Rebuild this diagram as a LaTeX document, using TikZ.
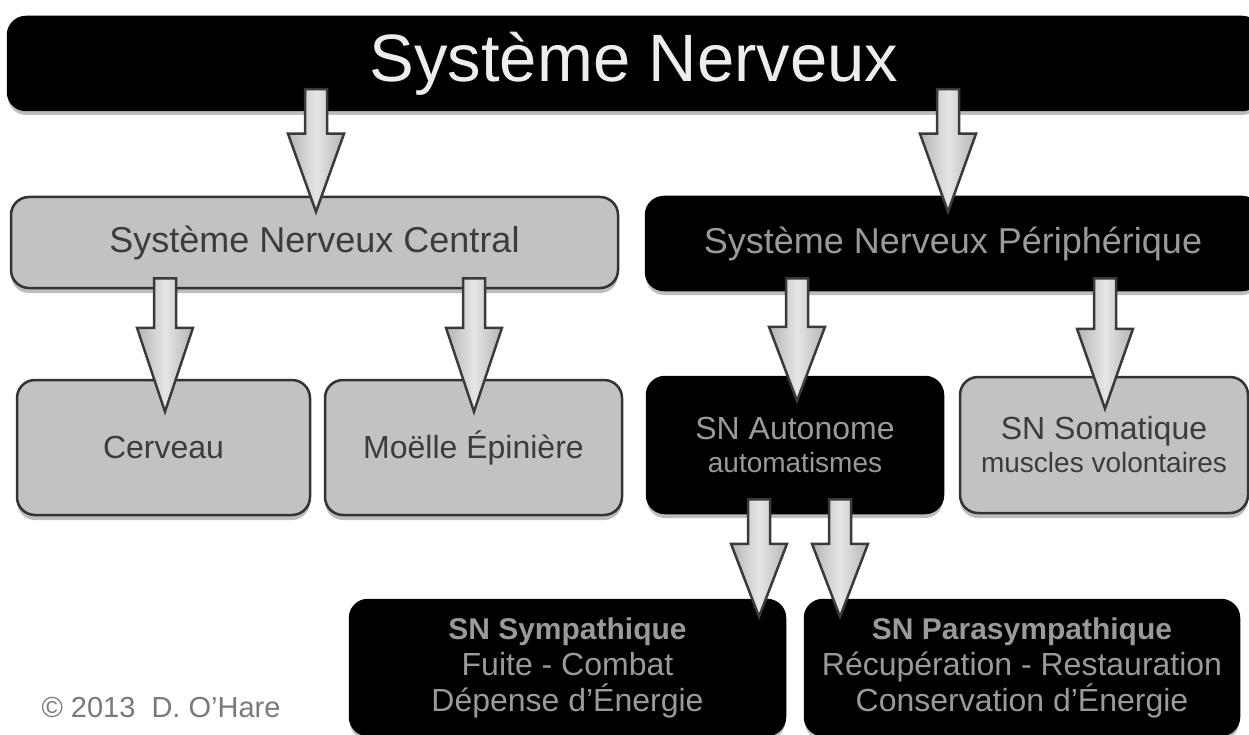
\documentclass[tikz,border=0pt]{standalone}
\usepackage{fontspec}
\setmainfont{Liberation Sans}
\usetikzlibrary{calc,shadows}
\definecolor{boxgray}{HTML}{C2C2C2}
\definecolor{edgegray}{HTML}{333333}
\definecolor{darktext}{HTML}{3C3C3C}
\definecolor{lighttext}{HTML}{9A9A9A}
\definecolor{titletext}{HTML}{EDEDED}
\definecolor{shadowgray}{HTML}{BDBDBD}
\definecolor{arrowedge}{HTML}{3A3A3A}
\definecolor{arrowside}{HTML}{B4B4B4}
\definecolor{arrowmid}{HTML}{E6E6E6}
\definecolor{copytext}{HTML}{7A7A7A}
\newcommand\blockarrow[6]{%
  \draw[barrow] let \p1=(#1.south), \p2=(#2.north) in
   ({#3pt-11pt},{\y1+#4pt}) -- ({#3pt+11pt},{\y1+#4pt})
   -- ({#3pt+11pt},{\y2-#5pt+#6pt}) -- ({#3pt+28pt},{\y2-#5pt+#6pt})
   -- ({#3pt},{\y2-#5pt})
   -- ({#3pt-28pt},{\y2-#5pt+#6pt}) -- ({#3pt-11pt},{\y2-#5pt+#6pt}) -- cycle;}
\begin{document}
\begin{tikzpicture}[x=1pt,y=-1pt,
  box/.style={rounded corners=18pt, line width=2.5pt, inner sep=0pt, align=center,
    drop shadow={shadow xshift=0pt, shadow yshift=-5pt, fill=shadowgray, opacity=1}},
  graybox/.style={box, fill=boxgray, draw=edgegray, text=darktext},
  blackbox/.style={box, fill=black, draw=black, text=lighttext},
  barrow/.style={draw=arrowedge, line width=2.5pt, line join=miter,
    left color=arrowside, right color=arrowside, middle color=arrowmid},
  big/.style={font=\fontsize{36}{40}\selectfont},
  mid/.style={font=\fontsize{32}{36}\selectfont}]
\useasboundingbox[fill=white] (0,0) rectangle (1249,735);
\begin{scope}
\clip (0,0) rectangle (1249,735);
\node[blackbox, text=titletext, minimum width=1252pt, minimum height=93pt,
  font=\fontsize{67}{70}\selectfont] (title) at (634,63.5) {Système Nerveux};
\node[graybox, big, minimum width=607pt, minimum height=91pt] (snc) at (314.5,242.5) {Système Nerveux Central};
\node[blackbox, big, minimum width=614pt, minimum height=93pt] (snp) at (953,243.5) {Système Nerveux Périphérique};
\node[graybox, mid, minimum width=293pt, minimum height=135pt] (cerveau) at (163.5,447.5) {Cerveau};
\node[graybox, mid, minimum width=297pt, minimum height=135pt] (moelle) at (473.5,447.5) {Moëlle Épinière};
\node[blackbox, minimum width=296pt, minimum height=136pt, font=\fontsize{28}{33}\selectfont] (sna) at (795,445)
  {{\fontsize{32}{33}\selectfont SN Autonome}\\automatismes};
\node[graybox, minimum width=288pt, minimum height=136pt, font=\fontsize{28}{33}\selectfont] (sns) at (1104,445)
  {{\fontsize{32}{33}\selectfont SN Somatique}\\muscles volontaires};
\node[blackbox, mid, minimum width=435pt, minimum height=135pt] (symp) at (567.5,667.5)
  {{\bfseries\fontsize{30}{36}\selectfont SN Sympathique}\\Fuite - Combat\\Dépense d'Énergie};
\node[blackbox, mid, minimum width=434pt, minimum height=135pt] (para) at (1022,667.5)
  {{\bfseries\fontsize{30}{36}\selectfont SN Parasympathique}\\Récupération - Restauration\\Conservation d'Énergie};
\node[text=copytext, font=\fontsize{29}{32}\selectfont] (copy) at (161,708) {© 2013~ D. O'Hare};
\blockarrow{title}{snc}{316}{22}{16}{78}
\blockarrow{title}{snp}{948}{22}{16}{78}
\blockarrow{snc}{cerveau}{165}{11}{33}{84}
\blockarrow{snc}{moelle}{474}{11}{33}{84}
\blockarrow{snp}{sna}{797}{13}{25}{74}
\blockarrow{snp}{sns}{1105}{13}{33}{80}
\blockarrow{sna}{symp}{759}{15}{18}{73}
\blockarrow{sna}{para}{840}{15}{18}{73}
\end{scope}
\end{tikzpicture}
\end{document}
